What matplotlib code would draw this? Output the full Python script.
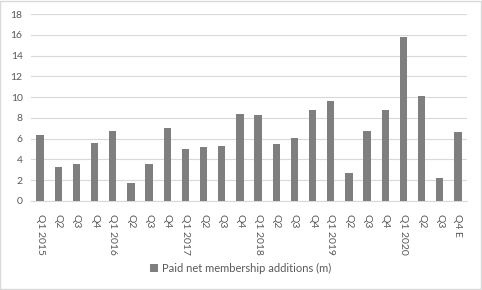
import matplotlib
matplotlib.use("Agg")
import matplotlib.pyplot as plt
from matplotlib.patches import Rectangle

categories = ["Q1 2015", "Q2", "Q3", "Q4", "Q1 2016", "Q2", "Q3", "Q4",
              "Q1 2017", "Q2", "Q3", "Q4", "Q1 2018", "Q2", "Q3", "Q4",
              "Q1 2019", "Q2", "Q3", "Q4", "Q1 2020", "Q2", "Q3", "Q4 E"]
values = [6.4, 3.3, 3.6, 5.6, 6.7, 1.7, 3.6, 7.0,
          5.0, 5.2, 5.3, 8.4, 8.3, 5.5, 6.1, 8.8,
          9.6, 2.7, 6.7, 8.8, 15.8, 10.1, 2.2, 6.6]
series_name = "Paid net membership additions (m)"
yticks = [0, 2, 4, 6, 8, 10, 12, 14, 16, 18]

plt.rcParams['font.family'] = ['Lato', 'DejaVu Sans']
txt = '#595959'

fig = plt.figure(figsize=(4.82, 2.90), dpi=100)
fig.patch.set_facecolor('white')
fig.add_artist(Rectangle((0.001, 0.002), 0.997, 0.995, transform=fig.transFigure,
                         fill=False, edgecolor='#d9d9d9', linewidth=1))
ax = fig.add_axes([31/482, 1-201/290, 436/482, 187/290])
x = list(range(len(categories)))
ax.bar(x, values, width=0.4, color='#7f7f7f', label=series_name, zorder=3)
ax.set_xlim(-0.5, len(categories)-0.5)
ax.set_ylim(0, 18)
ax.set_yticks(yticks)
ax.set_yticklabels([str(t) for t in yticks], fontsize=7.5, color=txt)
ax.set_xticks(x)
ax.set_xticklabels(categories, rotation=-90, fontsize=7.5, color=txt, va='top', ha='center')
ax.tick_params(axis='y', length=0, pad=6)
ax.tick_params(axis='x', length=0, pad=9)
ax.grid(axis='y', color='#d9d9d9', linewidth=0.8, zorder=0)
for s in ['top', 'right', 'left']:
    ax.spines[s].set_visible(False)
ax.spines['bottom'].set_color('#d9d9d9')
ax.spines['bottom'].set_linewidth(0.8)

leg = fig.legend(loc='center', bbox_to_anchor=(0.5, 1-268/290), frameon=False,
                 fontsize=8, handlelength=0.7, handleheight=0.7, handletextpad=0.4)
for t in leg.get_texts():
    t.set_color(txt)

fig.savefig('out.png', dpi=100)
